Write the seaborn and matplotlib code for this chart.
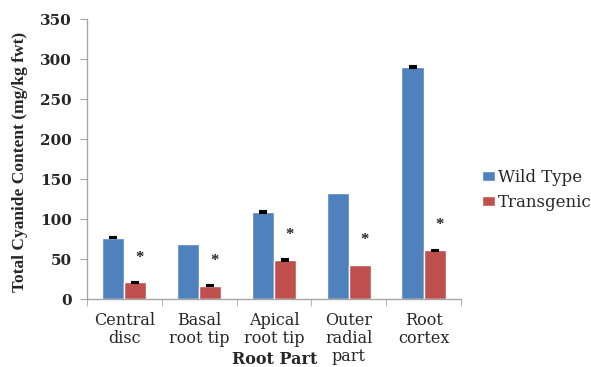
import matplotlib
matplotlib.use("Agg")
import matplotlib.pyplot as plt
import seaborn as sns
import pandas as pd
import numpy as np

categories = ["Central\ndisc", "Basal\nroot tip", "Apical\nroot tip", "Outer\nradial\npart", "Root\ncortex"]
wild_type = [77, 69, 109, 132, 290]
transgenic = [21, 17, 49, 43, 61]
wild_err = [1, 0, 1, 0, 1]
trans_err = [1, 1, 1, 0, 1]
series = ["Wild Type", "Transgenic"]
yticks = [0, 50, 100, 150, 200, 250, 300, 350]

sns.set_style("white")
plt.rcParams["font.family"] = ["DejaVu Serif"]

df = pd.DataFrame({
    "part": categories * 2,
    "value": wild_type + transgenic,
    "series": [series[0]] * 5 + [series[1]] * 5,
})

fig = plt.figure(figsize=(5.91, 3.67), dpi=100)
ax = fig.add_axes([0.147, 0.185, 0.633, 0.763])
palette = {"Wild Type": "#4F81BD", "Transgenic": "#C0504D"}
sns.barplot(data=df, x="part", y="value", hue="series", palette=palette,
            width=0.59, saturation=1, ax=ax, errorbar=None, legend=True)

# error bars at bar centres (none drawn where the error is zero)
errs = wild_err + trans_err
for patch, e in zip(ax.patches[:10], errs):
    if e == 0:
        continue
    xc = patch.get_x() + patch.get_width() / 2
    h = patch.get_height()
    ax.errorbar(xc, h, yerr=e, fmt="none", ecolor="black", elinewidth=1.0,
                capsize=3, capthick=1.5)

# significance markers above the transgenic bars
for patch, v in zip(ax.patches[5:10], transgenic):
    xc = patch.get_x() + patch.get_width() / 2
    ax.text(xc + 0.06, v + 31, "*", ha="center", va="center", fontsize=12,
            family="Liberation Serif", fontweight="bold")

ax.set_ylim(0, 350)
ax.set_xlim(-0.5, 4.5)
ax.set_yticks(yticks, labels=[str(t) for t in yticks], fontweight="bold", fontsize=11)
ax.tick_params(axis="y", length=5, color="#A6A6A6", direction="out", left=True, pad=6)
ax.tick_params(axis="x", which="major", length=0, labelsize=11.5, pad=9)
ax.set_xticks(np.arange(-0.5, 5, 1), minor=True)
ax.tick_params(axis="x", which="minor", length=5, color="#A6A6A6", direction="out", bottom=True)
for lbl in ax.get_xticklabels():
    lbl.set_linespacing(1.08)

for s in ["top", "right"]:
    ax.spines[s].set_visible(False)
for s in ["left", "bottom"]:
    ax.spines[s].set_color("#A6A6A6")
    ax.spines[s].set_linewidth(1)

ax.set_ylabel("Total Cyanide Content (mg/kg fwt)", fontsize=12.5, fontweight="bold",
              family="Liberation Serif", va="center")
ax.yaxis.set_label_coords(-0.179, 0.49)
ax.set_xlabel("Root Part", fontsize=11.5, fontweight="bold", va="center")
ax.xaxis.set_label_coords(0.503, -0.215)

leg = ax.legend(loc="center left", bbox_to_anchor=(1.055, 0.39), frameon=False,
                fontsize=12, handlelength=0.8, handleheight=0.55, handletextpad=0.2,
                labelspacing=0.45, borderpad=0, borderaxespad=0)

fig.savefig("out.png", dpi=100)
